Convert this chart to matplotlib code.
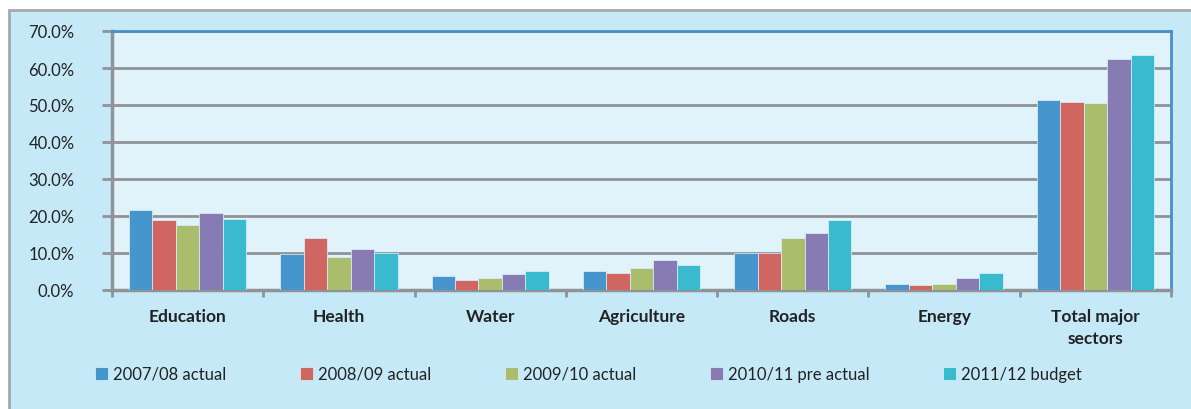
import matplotlib.pyplot as plt
import numpy as np
from matplotlib.patches import Rectangle
from matplotlib.ticker import FuncFormatter, MultipleLocator

categories = ["Education", "Health", "Water", "Agriculture", "Roads", "Energy", "Total major\nsectors"]
series_names = ["2007/08 actual", "2008/09 actual", "2009/10 actual", "2010/11 pre actual", "2011/12 budget"]
actual_0708 = [21.6, 9.6, 3.8, 5.2, 10.1, 1.6, 51.3]
actual_0809 = [18.8, 14.0, 2.8, 4.5, 10.1, 1.3, 50.8]
actual_0910 = [17.7, 9.0, 3.2, 6.0, 14.1, 1.6, 50.5]
pre_actual_1011 = [20.9, 11.1, 4.2, 8.2, 15.5, 3.2, 62.5]
budget_1112 = [19.1, 10.1, 5.2, 6.8, 18.8, 4.5, 63.6]
colors = ["#4695CD", "#CF6662", "#AABD6C", "#877BB4", "#39BACF"]

plt.rcParams["font.family"] = ["Lato", "DejaVu Sans"]

fig = plt.figure(figsize=(11.91, 4.10), dpi=100)
fig.patches.append(Rectangle((9 / 1191, -0.01), 1.0, 1 - 11 / 410 + 0.01, transform=fig.transFigure,
                             facecolor="#C6E9F8", edgecolor="#A3A8AC", linewidth=2, zorder=-5))
ax = fig.add_axes([112 / 1191, 1 - 291 / 410, (1171 - 112) / 1191, (291 - 32) / 410])
ax.set_zorder(2)
ax.set_facecolor("#E0F2FA")

data = [actual_0708, actual_0809, actual_0910, pre_actual_1011, budget_1112]
x = np.arange(len(categories))
width = 0.155
for i, (vals, name, col) in enumerate(zip(data, series_names, colors)):
    ax.bar(x + (i - 2) * width, vals, width, color=col, label=name, zorder=3,
           edgecolor="#E0F2FA", linewidth=0.5)

ax.set_xlim(-0.5, len(categories) - 0.5)
ax.set_ylim(0, 70)
ax.yaxis.set_major_locator(MultipleLocator(10))
ax.yaxis.set_major_formatter(FuncFormatter(lambda v, p: f"{v:.1f}%"))
ax.grid(axis="y", color="#8E9397", linewidth=2, zorder=1)

ax.set_xticks(x)
ax.set_xticklabels(categories, fontweight="bold", fontsize=12.5, color="#222222", linespacing=1.45)
ax.set_xticks(np.arange(-0.5, len(categories)), minor=True)
ax.tick_params(axis="x", which="major", length=0, pad=13)
ax.tick_params(axis="x", which="minor", length=5, width=2, color="#8E9397", direction="out")
ax.tick_params(axis="y", length=7, width=2, color="#8E9397", pad=20, labelsize=12, labelcolor="#222222")

for side in ["left", "bottom"]:
    ax.spines[side].set_color("#8E9397")
    ax.spines[side].set_linewidth(2.5)
for side in ["top", "right"]:
    ax.spines[side].set_color("#4A8FC6")
    ax.spines[side].set_linewidth(2)

fig.legend(loc="center", bbox_to_anchor=(0.494, 1 - 375 / 410), ncol=5, frameon=False,
           fontsize=12, handlelength=0.8, handleheight=0.8, handletextpad=0.3,
           columnspacing=4.4, labelcolor="#222222")

fig.savefig("out.png", dpi=100)
